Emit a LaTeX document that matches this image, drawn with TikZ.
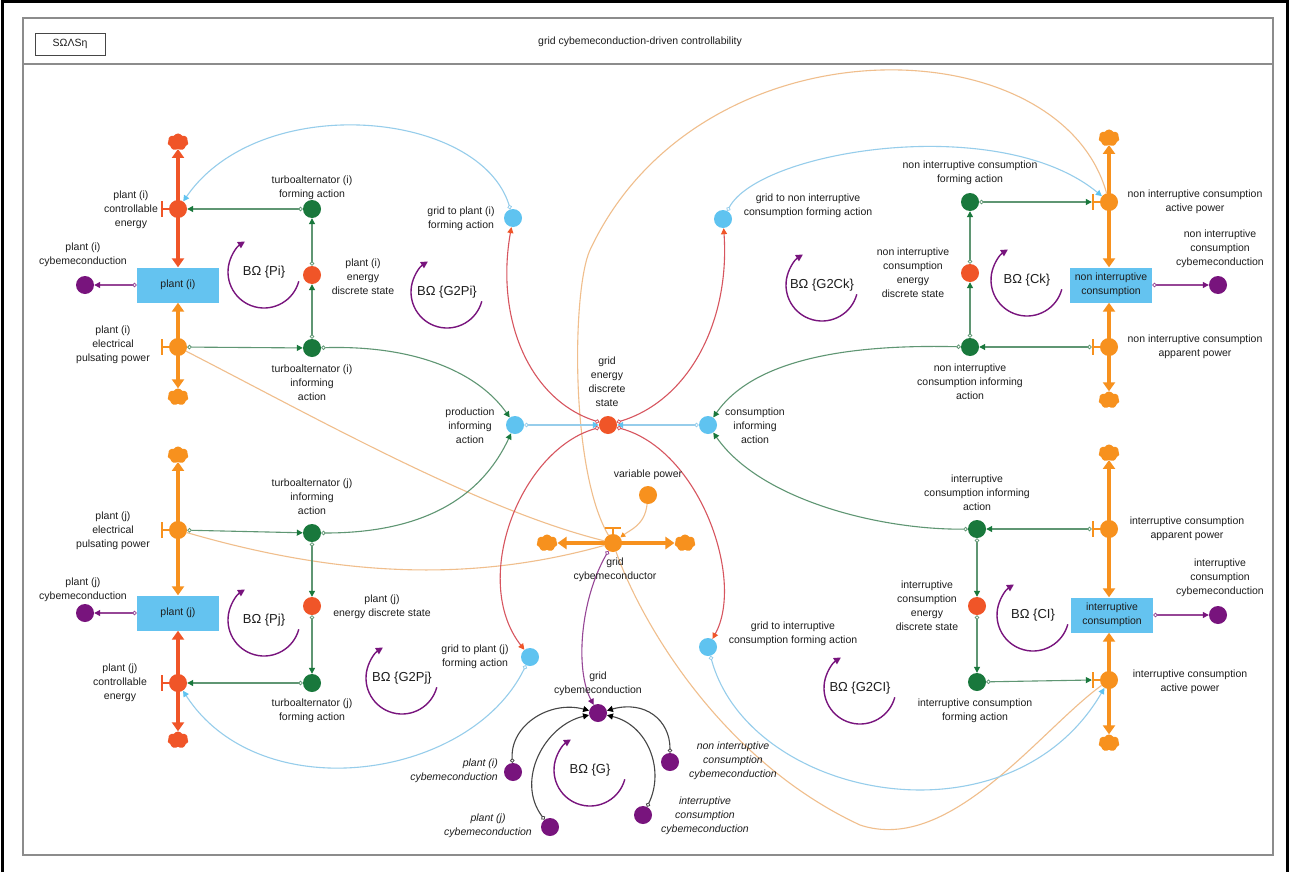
\documentclass[tikz,border=0pt]{standalone}
\usepackage{fontspec}
\setmainfont{Liberation Sans}
\usetikzlibrary{arrows.meta,shapes.symbols}
\pgfdeclarelayer{bg}
\pgfsetlayers{bg,main}

\definecolor{cRed}{RGB}{240,85,40}
\definecolor{cOrange}{RGB}{247,145,30}
\definecolor{cGreen}{RGB}{25,120,60}
\definecolor{cGreenLine}{RGB}{95,150,115}
\definecolor{cBlue}{RGB}{95,195,240}
\definecolor{cBlueLine}{RGB}{150,205,235}
\definecolor{cBox}{RGB}{100,195,240}
\definecolor{cPurple}{RGB}{120,20,125}
\definecolor{cPurpleLine}{RGB}{150,70,150}
\definecolor{cRedLine}{RGB}{215,85,95}
\definecolor{cOrLine}{RGB}{240,190,140}
\definecolor{cFrame}{RGB}{140,140,140}
\definecolor{cText}{RGB}{30,30,30}
\definecolor{cDark}{RGB}{70,70,70}

\newcommand{\lblfont}{\fontsize{10.5}{14}\selectfont}
\newcommand{\loopfont}{\fontsize{13}{15}\selectfont}
\newcommand{\vhand}[2]{%
  \draw[#2,line width=2.2pt] (#1.west) -- ++(-7,0);
  \draw[#2,line width=2.6pt] (#1.west) ++(-7,-8) -- ++(0,16);}

\tikzset{
  dot/.style={circle, inner sep=0pt, minimum size=18pt},
  gdot/.style={dot, fill=cGreen},
  rdot/.style={dot, fill=cRed},
  bdot/.style={dot, fill=cBlue},
  pdot/.style={dot, fill=cPurple},
  odot/.style={dot, fill=cOrange},
  cloudbase/.style={cloud, cloud puffs=7, cloud puff arc=120, aspect=1.2, inner sep=0pt, minimum width=21pt, minimum height=17pt},
  rcloud/.style={cloudbase, fill=cRed},
  ocloud/.style={cloudbase, fill=cOrange},
  stock/.style={rectangle, fill=cBox, minimum width=82pt, minimum height=35pt, inner sep=0pt, font=\lblfont, align=center, text=cText},
  lbl/.style={font=\lblfont, align=center, inner sep=0pt, text=cText},
  ilbl/.style={font=\lblfont\itshape, inner sep=0pt, text=cText},
  looplbl/.style={font=\loopfont, inner sep=0pt, text=cText},
  loopar/.style={draw=cPurple, line width=1.4pt, -{Triangle[length=7pt,width=7pt]}},
  flowR/.style={draw=cRed, line width=3.8pt, {Triangle[length=9pt,width=12pt]}-{Triangle[length=9pt,width=12pt]}},
  flowO/.style={draw=cOrange, line width=3.8pt, {Triangle[length=9pt,width=12pt]}-{Triangle[length=9pt,width=12pt]}},
  glink/.style={draw=cGreenLine, line width=1.1pt, {Circle[open,fill=white,length=4.5pt,line width=0.8pt]}-{Triangle[length=6pt,width=6pt,color=cGreen]}},
  blink/.style={draw=cBlueLine, line width=1.1pt, {Circle[open,fill=white,length=4.5pt,line width=0.8pt]}-{Triangle[length=6pt,width=6pt,color=cBlue]}},
  rlink/.style={draw=cRedLine, line width=1.1pt, {Circle[open,fill=white,length=4.5pt,line width=0.8pt]}-{Triangle[length=6pt,width=6pt,color=cRed]}},
  plink/.style={draw=cPurpleLine, line width=1.1pt, {Circle[open,fill=white,length=4.5pt,line width=0.8pt]}-{Triangle[length=6pt,width=6pt,color=cPurple]}},
  klink/.style={draw=cDark, line width=1.1pt, {Circle[open,fill=white,length=4.5pt,line width=0.8pt]}-{Triangle[length=6pt,width=6pt,color=black]}},
  olink/.style={draw=cOrLine, line width=1.1pt},
}

\begin{document}
\begin{tikzpicture}[x=1pt,y=-1pt]
\useasboundingbox (0,0) rectangle (1289,872);
\begin{pgfonlayer}{bg}
\fill[white] (0,0) rectangle (1289,872);
\end{pgfonlayer}
% outer border and frame
\draw[black, line width=3pt] (2,872) -- (2,2) -- (1287,2) -- (1287,872);
\draw[cFrame, line width=2pt] (23,18) rectangle (1273,855);
\draw[cFrame, line width=2.5pt] (23,64) -- (1273,64);
\node[draw=cDark, line width=0.8pt, minimum width=70pt, minimum height=22pt, inner sep=0pt, font=\lblfont, text=cText] (logo) at (70,44) {SΩΛSη};
\node[lbl] (title) at (640,42) {grid cybemeconduction-driven controllability};

% ---------- plant (i)
\node[rcloud] (ci1) at (178,142) {};
\node[rdot] (cei) at (178,209) {};
\node[stock] (boxi) at (178,285) {plant (i)};
\node[pdot] (pci) at (85,285) {};
\node[odot] (epi) at (178,347) {};
\node[ocloud] (coi) at (178,397) {};
\node[gdot] (tfai) at (312,209) {};
\node[rdot] (edsi) at (312,275) {};
\node[gdot] (tiai) at (312,348) {};
\node[lbl] (l-cei) at (131,210) {plant (i)\\controllable\\energy};
\node[lbl] (l-pci) at (83,255) {plant (i)\\cybemeconduction};
\node[lbl] (l-epi) at (113,345) {plant (i)\\electrical\\pulsating power};
\node[lbl] (l-tfai) at (312,188) {turboalternator (i)\\forming action};
\node[lbl] (l-edsi) at (363,277) {plant (i)\\energy\\discrete state};
\node[lbl] (l-tiai) at (312,383) {turboalternator (i)\\informing\\action};

% ---------- plant (j)
\node[ocloud] (cj1) at (178,455) {};
\node[odot] (epj) at (178,530) {};
\node[stock] (boxj) at (178,613) {plant (j)};
\node[pdot] (pcj) at (85,613) {};
\node[rdot] (cej) at (178,683) {};
\node[rcloud] (cj2) at (178,740) {};
\node[gdot] (tiaj) at (312,533) {};
\node[rdot] (edsj) at (312,606) {};
\node[gdot] (tfaj) at (312,683) {};
\node[lbl] (l-epj) at (113,531) {plant (j)\\electrical\\pulsating power};
\node[lbl] (l-pcj) at (83,590) {plant (j)\\cybemeconduction};
\node[lbl] (l-cej) at (120,683) {plant (j)\\controllable\\energy};
\node[lbl] (l-tiaj) at (312,497) {turboalternator (j)\\informing\\action};
\node[lbl] (l-edsj) at (382,607) {plant (j)\\energy discrete state};
\node[lbl] (l-tfaj) at (312,711) {turboalternator (j)\\forming action};

% ---------- grid (middle)
\node[bdot] (g2pi) at (513,218) {};
\node[bdot] (g2nc) at (723,219) {};
\node[bdot] (pia) at (515,425) {};
\node[rdot] (geds) at (608,425) {};
\node[bdot] (cia) at (708,425) {};
\node[odot] (vp) at (648,495) {};
\node[odot] (gcr) at (613,543) {};
\node[ocloud] (gcl) at (547,543) {};
\node[ocloud] (gcrr) at (685,543) {};
\node[bdot] (g2pj) at (530,657) {};
\node[bdot] (g2ic) at (708,647) {};
\node[pdot] (gcd) at (598,713) {};
\node[pdot] (bpi) at (513,772) {};
\node[pdot] (bpj) at (550,827) {};
\node[pdot] (bnc) at (670,762) {};
\node[pdot] (bic) at (643,815) {};
\node[lbl] (l-g2pi) at (461,219) {grid to plant (i)\\forming action};
\node[lbl] (l-geds) at (607,382) {grid\\energy\\discrete\\state};
\node[lbl] (l-pia) at (470,426) {production\\informing\\action};
\node[lbl] (l-cia) at (755,426) {consumption\\informing\\action};
\node[lbl] (l-g2nc) at (808,206) {grid to non interruptive\\consumption forming action};
\node[lbl] (l-vp) at (648,475) {variable power};
\node[lbl] (l-gcr) at (615,570) {grid\\cybemeconductor};
\node[lbl] (l-g2pj) at (475,657) {grid to plant (j)\\forming action};
\node[lbl] (l-g2ic) at (793,634) {grid to interruptive\\consumption forming action};
\node[lbl] (l-gcd) at (598,684) {grid\\cybemeconduction};
\node[ilbl, align=right, anchor=east] (l-bpi) at (498,771) {plant (i)\\cybemeconduction};
\node[ilbl, align=center] (l-bpj) at (488,826) {plant (j)\\cybemeconduction};
\node[ilbl, align=center] (l-bnc) at (733,761) {non interruptive\\consumption\\cybemeconduction};
\node[ilbl, align=center] (l-bic) at (705,816) {interruptive\\consumption\\cybemeconduction};

% ---------- non interruptive consumption
\node[ocloud] (cn1) at (1109,138) {};
\node[odot] (apn) at (1109,202) {};
\node[stock] (boxn) at (1111,285) {non interruptive\\consumption};
\node[pdot] (pcn) at (1218,285) {};
\node[odot] (appn) at (1109,347) {};
\node[ocloud] (cn2) at (1109,400) {};
\node[gdot] (nfa) at (970,202) {};
\node[rdot] (neds) at (970,273) {};
\node[gdot] (nia) at (970,347) {};
\node[lbl] (l-apn) at (1195,202) {non interruptive consumption\\active power};
\node[lbl] (l-pcn) at (1220,249) {non interruptive\\consumption\\cybemeconduction};
\node[lbl] (l-appn) at (1195,347) {non interruptive consumption\\apparent power};
\node[lbl] (l-nfa) at (970,173) {non interruptive consumption\\forming action};
\node[lbl] (l-neds) at (913,273) {non interruptive\\consumption\\energy\\discrete state};
\node[lbl] (l-nia) at (970,382) {non interruptive\\consumption informing\\action};

% ---------- interruptive consumption
\node[ocloud] (cI1) at (1109,453) {};
\node[odot] (appI) at (1109,529) {};
\node[stock] (boxI) at (1112,615) {interruptive\\consumption};
\node[pdot] (pcI) at (1218,615) {};
\node[odot] (apI) at (1109,680) {};
\node[ocloud] (cI2) at (1109,743) {};
\node[gdot] (iia) at (977,529) {};
\node[rdot] (ieds) at (977,606) {};
\node[gdot] (ifa) at (977,682) {};
\node[lbl] (l-appI) at (1187,529) {interruptive consumption\\apparent power};
\node[lbl] (l-pcI) at (1220,578) {interruptive\\consumption\\cybemeconduction};
\node[lbl] (l-apI) at (1190,682) {interruptive consumption\\active power};
\node[lbl] (l-iia) at (977,493) {interruptive\\consumption informing\\action};
\node[lbl] (l-ieds) at (927,606) {interruptive\\consumption\\energy\\discrete state};
\node[lbl] (l-ifa) at (975,711) {interruptive consumption\\forming action};

% ---------- valve handles
\vhand{cei}{cRed}
\vhand{cej}{cRed}
\vhand{epi}{cOrange}
\vhand{epj}{cOrange}
\vhand{apn}{cOrange}
\vhand{appn}{cOrange}
\vhand{appI}{cOrange}
\vhand{apI}{cOrange}
\draw[cOrange,line width=2.2pt] (gcr.north) -- ++(0,-6);
\draw[cOrange,line width=2.6pt] (gcr.north) ++(-8,-6) -- ++(16,0);

% ---------- loops
\draw[loopar] (264,272) ++(15:36) arc[start angle=15,end angle=238,radius=36];
\node[looplbl] (bpiL) at (264,272) {BΩ \{Pi\}};
\draw[loopar] (264,620) ++(15:36) arc[start angle=15,end angle=238,radius=36];
\node[looplbl] (bpjL) at (264,620) {BΩ \{Pj\}};
\draw[loopar] (447,292) ++(15:36) arc[start angle=15,end angle=238,radius=36];
\node[looplbl] (g2piL) at (447,292) {BΩ \{G2Pi\}};
\draw[loopar] (402,678) ++(15:36) arc[start angle=15,end angle=238,radius=36];
\node[looplbl] (g2pjL) at (402,678) {BΩ \{G2Pj\}};
\draw[loopar] (822,285) ++(15:36) arc[start angle=15,end angle=238,radius=36];
\node[looplbl] (g2ckL) at (822,285) {BΩ \{G2Ck\}};
\draw[loopar] (1027,280) ++(15:36) arc[start angle=15,end angle=238,radius=36];
\node[looplbl] (ckL) at (1027,280) {BΩ \{Ck\}};
\draw[loopar] (860,688) ++(15:36) arc[start angle=15,end angle=238,radius=36];
\node[looplbl] (g2ciL) at (860,688) {BΩ \{G2CI\}};
\draw[loopar] (1033,615) ++(15:36) arc[start angle=15,end angle=238,radius=36];
\node[looplbl] (ciL) at (1033,615) {BΩ \{CI\}};
\draw[loopar] (590,770) ++(15:36) arc[start angle=15,end angle=238,radius=36];
\node[looplbl] (gL) at (590,770) {BΩ \{G\}};

\begin{pgfonlayer}{bg}
% flows
\draw[flowR] (ci1) -- (ci1 |- boxi.north);
\draw[flowO] (coi |- boxi.south) -- (coi);
\draw[flowO] (cj1) -- (cj1 |- boxj.north);
\draw[flowR] (cj2 |- boxj.south) -- (cj2);
\draw[flowO] (cn1) -- (cn1 |- boxn.north);
\draw[flowO] (cn2 |- boxn.south) -- (cn2);
\draw[flowO] (cI1) -- (cI1 |- boxI.north);
\draw[flowO] (cI2 |- boxI.south) -- (cI2);
\draw[flowO] (gcl) -- (gcrr);

% orange thin power links
\draw[olink] (epi) .. controls (320,420) and (480,510) .. (gcr);
\draw[olink] (epj) .. controls (350,580) and (480,580) .. (gcr);
\draw[olink] (apn) .. controls (1060,25) and (700,15) .. (590,250) .. controls (572,289) and (570,470) .. (gcr);
\draw[olink] (gcr) .. controls (640,620) and (720,760) .. (860,825) .. controls (950,855) and (1040,730) .. (apI);
\draw[olink, -{Triangle[length=5pt,width=5pt,color=cOrange]}] (vp) .. controls (645,525) and (630,530) .. (gcr);

% green links
\draw[glink] (tfai) -- (cei);
\draw[glink] (tiai) -- (edsi);
\draw[glink] (edsi) -- (tfai);
\draw[glink] (epi) -- (tiai);
\draw[glink] (tiaj) -- (edsj);
\draw[glink] (edsj) -- (tfaj);
\draw[glink] (tfaj) -- (cej);
\draw[glink] (epj) -- (tiaj);
\draw[glink] (nfa) -- ([xshift=-8pt]apn.west);
\draw[glink] ([xshift=-8pt]appn.west) -- (nia);
\draw[glink] (nia) -- (neds);
\draw[glink] (neds) -- (nfa);
\draw[glink] ([xshift=-8pt]appI.west) -- (iia);
\draw[glink] (iia) -- (ieds);
\draw[glink] (ieds) -- (ifa);
\draw[glink] (ifa) -- ([xshift=-8pt]apI.west);
\draw[glink] (tiai) .. controls (420,345) and (480,375) .. (pia);
\draw[glink] (tiaj) .. controls (420,533) and (480,500) .. (pia);
\draw[glink] (nia) .. controls (880,345) and (760,350) .. (cia);
\draw[glink] (iia) .. controls (880,530) and (760,500) .. (cia);

% light blue links
\draw[blink] (pia) -- (geds);
\draw[blink] (cia) -- (geds);
\draw[blink] (g2pi) .. controls (480,110) and (260,90) .. (cei);
\draw[blink] (g2nc) .. controls (760,150) and (1000,112) .. (apn);
\draw[blink] (g2pj) .. controls (470,780) and (260,810) .. (cej);
\draw[blink] (g2ic) .. controls (750,800) and (1010,850) .. (apI);

% red links
\draw[rlink] (geds) .. controls (530,400) and (495,320) .. (g2pi);
\draw[rlink] (geds) .. controls (690,400) and (730,320) .. (g2nc);
\draw[rlink] (geds) .. controls (520,450) and (470,580) .. (g2pj);
\draw[rlink] (geds) .. controls (700,450) and (745,580) .. (g2ic);

% purple links
\draw[plink] (boxi) -- (pci);
\draw[plink] (boxj) -- (pcj);
\draw[plink] (boxn) -- (pcn);
\draw[plink] (boxI) -- (pcI);
\draw[plink] (gcr) .. controls (580,600) and (575,670) .. (gcd);

% black links
\draw[klink] (bpi) .. controls (510,725) and (550,700) .. (gcd);
\draw[klink] (bpj) .. controls (515,780) and (545,725) .. (gcd);
\draw[klink] (bnc) .. controls (670,720) and (645,700) .. (gcd);
\draw[klink] (bic) .. controls (665,770) and (648,725) .. (gcd);
\end{pgfonlayer}
\end{tikzpicture}
\end{document}
